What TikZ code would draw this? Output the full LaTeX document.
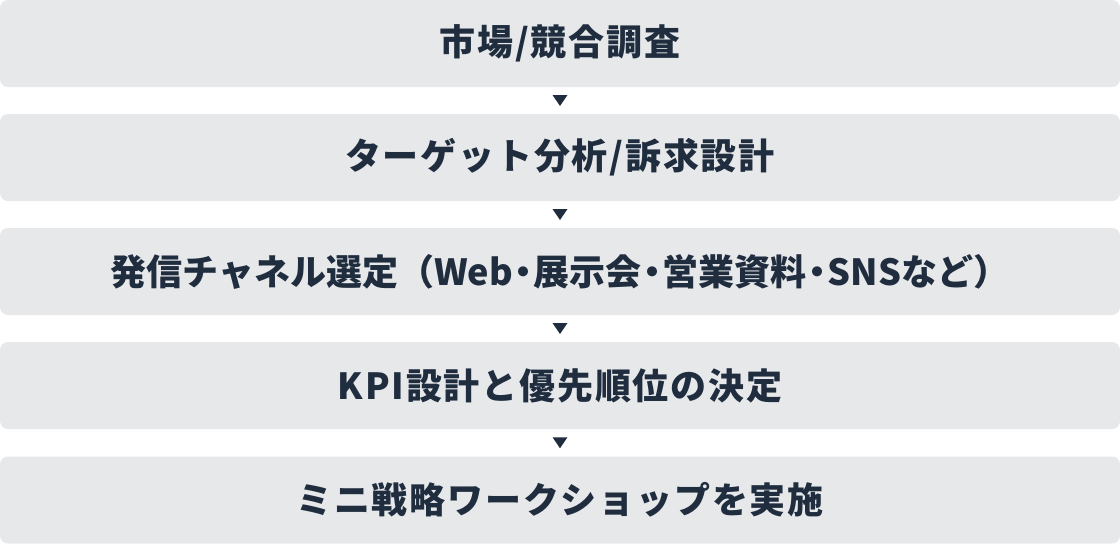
\documentclass[tikz,border=0pt]{standalone}
\usepackage{fontspec}
\usetikzlibrary{calc}
\setmainfont{Noto Sans CJK JP}[LetterSpace=5]
\newfontfamily\tightjp{Noto Sans CJK JP}
\newcommand{\hp}[1]{\kern1.5pt{\addfontfeature{RawFeature=+halt}#1}\kern1.5pt}
\definecolor{boxfill}{HTML}{E7E8EA}
\definecolor{ink}{HTML}{1F2D3F}
\begin{document}
\begin{tikzpicture}[x=1pt,y=-1pt,
  stepbox/.style={fill=boxfill,rounded corners=8pt,minimum width=1120pt,minimum height=87pt,inner sep=0pt,
    font=\fontsize{36}{42}\selectfont\bfseries,text=ink},
  tri/.style={fill=ink}]
\useasboundingbox (0,0) rectangle (1120,544);
\node[stepbox] (b1) at (560,43.5) {市場/競合調査};
\node[stepbox] (b2) at (560,157.5) {ターゲット分析/訴求設計};
\node[stepbox] (b3) at (560,271.5) {\tightjp\bfseries 発信チャネル選定（Web\hp{・}展示会\hp{・}営業資料\hp{・}SNSなど）};
\node[stepbox] (b4) at (560,385.5) {KPI設計と優先順位の決定};
\node[stepbox] (b5) at (560,500) {ミニ戦略ワークショップを実施};
\foreach \a/\b in {b1/b2,b2/b3,b3/b4,b4/b5}{
  \coordinate (m) at ($(\a.south)!0.5!(\b.north)$);
  \fill[tri] ($(m)+(-7.5,-5.5)$) -- ($(m)+(7.5,-5.5)$) -- ($(m)+(0,5.5)$) -- cycle;
}
\end{tikzpicture}
\end{document}
